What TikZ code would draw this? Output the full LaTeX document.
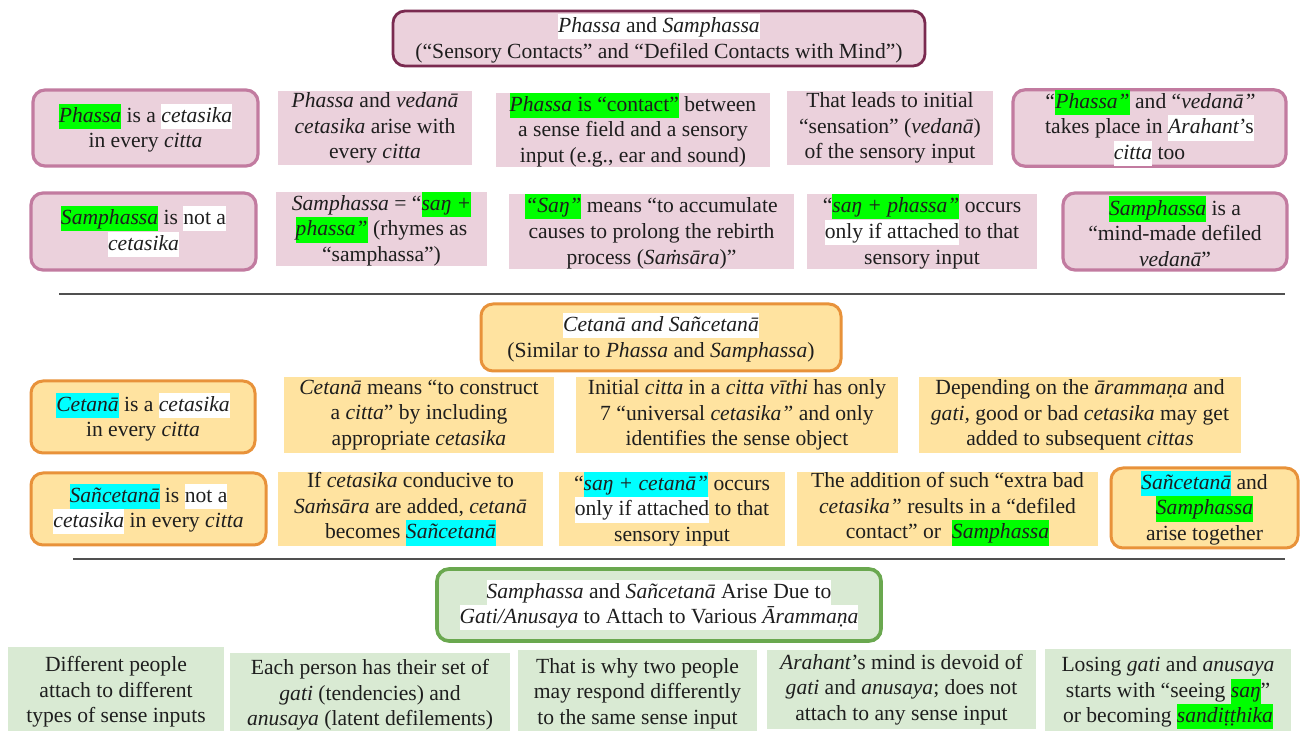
\documentclass[tikz,border=0pt]{standalone}
\usepackage{fontspec}
\setmainfont{Liberation Serif}
\usepackage{xcolor}
\definecolor{pinkfill}{HTML}{EBD1DC}
\definecolor{pinkline}{HTML}{C27BA0}
\definecolor{maroon}{HTML}{7A2A50}
\definecolor{orfill}{HTML}{FFE3A0}
\definecolor{orline}{HTML}{E8923A}
\definecolor{grfill}{HTML}{D9EAD3}
\definecolor{grline}{HTML}{6AA84F}
\definecolor{hlg}{HTML}{00FF00}
\definecolor{hlc}{HTML}{00FFFF}
\definecolor{txt}{HTML}{1E1E1E}
\definecolor{rule}{HTML}{505050}
\newcommand\hlbox[2]{{\setlength\fboxsep{0pt}\colorbox{#1}{\rule[-3.3pt]{0pt}{12.6pt}#2}}}
\newcommand\hg[1]{\hlbox{hlg}{#1}}
\newcommand\hc[1]{\hlbox{hlc}{#1}}
\newcommand\hw[1]{\hlbox{white}{#1}}
\newcommand\bx[7]{\node[#6, minimum width={(#4-#2)*0.5pt}, minimum height={(#5-#3)*0.5pt}] (#1) at ({(#2+#4)/2},{(#3+#5)/2}) {#7};}
\tikzset{
  base/.style={align=center, inner sep=0pt, text=txt, font=\fontsize{10.8}{12.8}\selectfont},
  pinkR/.style={base, rounded corners=6pt, draw=pinkline, line width=1.6pt, fill=pinkfill},
  pinkP/.style={base, fill=pinkfill},
  titleA/.style={base, rounded corners=6pt, draw=maroon, line width=1.4pt, fill=pinkfill},
  orR/.style={base, rounded corners=6pt, draw=orline, line width=1.5pt, fill=orfill},
  orP/.style={base, fill=orfill},
  grT/.style={base, rounded corners=6pt, draw=grline, line width=1.8pt, fill=grfill},
  grP/.style={base, fill=grfill},
  sep/.style={draw=rule, line width=0.8pt}
}
\begin{document}
\begin{tikzpicture}[x=0.5pt,y=-0.5pt]
\useasboundingbox[fill=white] (0,0) rectangle (1303,731);
% Section 1
\bx{t1}{393}{11}{925}{66}{titleA}{\hw{\textit{Phassa} and \textit{Samphassa}}\\(“Sensory Contacts” and “Defiled Contacts with Mind”)}
\bx{b1}{33}{90}{258}{166}{pinkR}{\hg{\textit{Phassa}} is a \hw{\textit{cetasika}}\\in every \textit{citta}}
\bx{b2}{278}{91}{472}{165}{pinkP}{\textit{Phassa} and \textit{vedanā}\\\textit{cetasika} arise with\\every \textit{citta}}
\bx{b3}{496}{93}{770}{167}{pinkP}{\hg{\textit{Phassa} is “contact”} between\\a sense field and a sensory\\input (e.g., ear and sound)}
\bx{b4}{787}{91}{993}{165}{pinkP}{That leads to initial\\“sensation” (\textit{vedanā})\\of the sensory input}
\bx{b5}{1013}{90}{1286}{166}{pinkR}{\textit{“\hg{Phassa”}} and “\textit{vedanā”}\\takes place in \hw{\textit{Arahant}’s}\\\hw{\textit{citta}} too}
\bx{c1}{31}{193}{256}{270}{pinkR}{\hg{\textit{Samphassa}} is \hw{not a}\\\hw{\textit{cetasika}}}
\bx{c2}{276}{192}{487}{266}{pinkP}{\textit{Samphassa} = “\hg{\textit{saŋ +}}\\\hg{\textit{phassa”}} (rhymes as\\“samphassa”)}
\bx{c3}{509}{194}{794}{269}{pinkP}{\hg{\textit{“Saŋ”}} means “to accumulate\\causes to prolong the rebirth\\process (\textit{Saṁsāra})”}
\bx{c4}{807}{194}{1037}{269}{pinkP}{“\hg{\textit{saŋ + phassa”}} occurs\\\hw{only if attached} to that\\sensory input}
\bx{c5}{1063}{193}{1287}{270}{pinkR}{\hg{\textit{Samphassa}} is a\\“mind-made defiled\\\textit{vedanā}”}
\coordinate (l1a) at (59,294); \coordinate (l1b) at (1285,294);
\draw[sep] (l1a) -- (l1b);
% Section 2
\bx{t2}{481}{304}{841}{371}{orR}{\hw{\textit{Cetanā and Sañcetanā}}\\(Similar to \textit{Phassa} and \textit{Samphassa})}
\bx{d1}{31}{381}{255}{453}{orR}{\hc{\textit{Cetanā}} is a \hw{\textit{cetasika}}\\in every \textit{citta}}
\bx{d2}{284}{377}{554}{453}{orP}{\textit{Cetanā} means “to construct\\a \textit{citta}” by including\\appropriate \textit{cetasika}}
\bx{d3}{576}{377}{898}{453}{orP}{Initial \textit{citta} in a \textit{citta vīthi} has only\\7 “universal \textit{cetasika”} and only\\identifies the sense object}
\bx{d4}{919}{377}{1241}{453}{orP}{Depending on the \textit{ārammaṇa} and\\\textit{gati,} good or bad \textit{cetasika} may get\\added to subsequent \textit{cittas}}
\bx{e1}{31}{473}{266}{545}{orR}{\hc{\textit{Sañcetanā}} is \hw{not a}\\\hw{\textit{cetasika}} in every \textit{citta}}
\bx{e2}{278}{472}{543}{546}{orP}{If \textit{cetasika} conducive to\\\textit{Saṁsāra} are added, \textit{cetanā}\\becomes \hc{\textit{Sañcetanā}}}
\bx{e3}{559}{472}{785}{546}{orP}{“\hc{\textit{saŋ + cetanā”}} occurs\\\hw{only if attached} to that\\sensory input}
\bx{e4}{797}{472}{1098}{546}{orP}{The addition of such “extra bad\\\textit{cetasika”} results in a “defiled\\contact” or\ \ \hg{\textit{Samphassa}}}
\bx{e5}{1111}{468}{1298}{548}{orR}{\hc{\textit{Sañcetanā}} and\\\hg{\textit{Samphassa}}\\arise together}
\coordinate (l2a) at (73,559); \coordinate (l2b) at (1285,559);
\draw[sep] (l2a) -- (l2b);
% Section 3
\bx{t3}{437}{569}{881}{641}{grT}{\hw{\textit{Samphassa} and \textit{Sañcetanā} Arise Due to}\\\hw{\textit{Gati/Anusaya} to Attach to Various \textit{Ārammaṇa}}}
\bx{f1}{8}{647}{224}{737}{grP}{Different people\\attach to different\\types of sense inputs}
\bx{f2}{230}{653}{510}{737}{grP}{Each person has their set of\\\textit{gati} (tendencies) and\\\textit{anusaya} (latent defilements)}
\bx{f3}{518}{650}{757}{737}{grP}{That is why two people\\may respond differently\\to the same sense input}
\bx{f4}{767}{650}{1036}{729}{grP}{\textit{Arahant}’s mind is devoid of\\\textit{gati} and \textit{anusaya}; does not\\attach to any sense input}
\bx{f5}{1045}{649}{1291}{737}{grP}{Losing \textit{gati} and \textit{anusaya}\\starts with “seeing \hg{\textit{saŋ}}”\\or becoming \hg{\textit{sandiṭṭhika}}}
\end{tikzpicture}
\end{document}
